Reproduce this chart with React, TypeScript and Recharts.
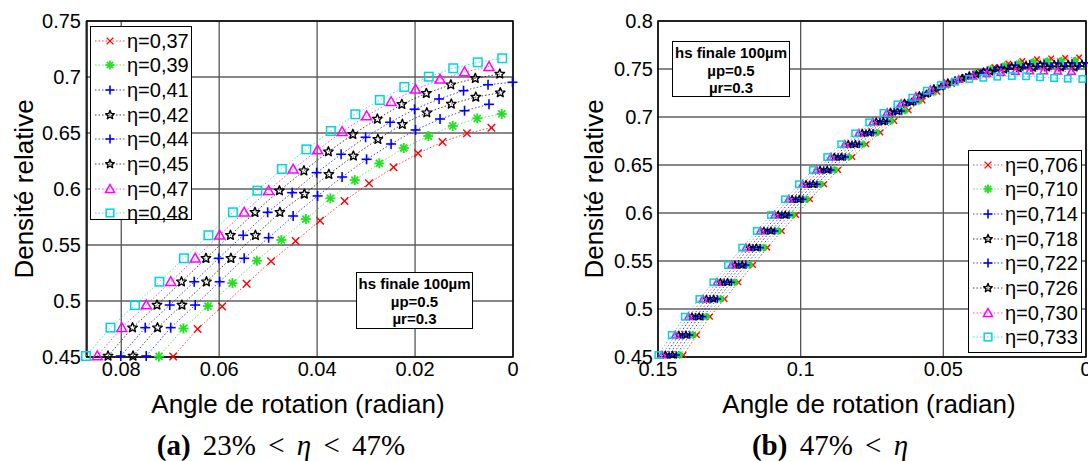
import { CartesianGrid, Line, LineChart, ReferenceArea, XAxis, YAxis } from "recharts";

type Shape = "cross" | "asterisk" | "plus" | "penta" | "triangle" | "square";
type Row = { x: number; y: number };

// shared series styling (same order in both panels)
const COLORS = ["#ff0000", "#22e022", "#0000ff", "#000000", "#0000ff", "#000000", "#ff00ff", "#00d4dc"];
const SHAPES: Shape[] = ["cross", "asterisk", "plus", "penta", "plus", "penta", "triangle", "square"];

// ---------- (a) 23% < η < 47% ----------
const A_NAMES = ["η=0,37", "η=0,39", "η=0,41", "η=0,42", "η=0,44", "η=0,45", "η=0,47", "η=0,48"];
const A_X_TICKS = [0, 0.02, 0.04, 0.06, 0.08];
const A_Y_TICKS = [0.45, 0.5, 0.55, 0.6, 0.65, 0.7, 0.75];
// angles of the η=0,48 points; every other series sits A_SHIFT to the right
const A_ANGLES = [0.0872, 0.0822, 0.0772, 0.0722, 0.0672, 0.0622, 0.0572, 0.0522, 0.0472, 0.0422, 0.0372, 0.0322, 0.0272, 0.0222, 0.0172, 0.0122, 0.0072, 0.0022];
const A_SHIFT = [0.0178, 0.0149, 0.0123, 0.0096, 0.0071, 0.0045, 0.0023, 0];
const A_037 = [0.4505, 0.475, 0.495, 0.5155, 0.5355, 0.5536, 0.5717, 0.5893, 0.6051, 0.6194, 0.6319, 0.642, 0.6497, 0.6547];
const A_039 = [0.4505, 0.4755, 0.4955, 0.516, 0.536, 0.5545, 0.5732, 0.5917, 0.608, 0.6229, 0.6366, 0.6473, 0.6563, 0.6631, 0.667];
const A_041 = [0.4509, 0.4762, 0.4964, 0.5172, 0.5381, 0.5565, 0.5759, 0.5938, 0.6107, 0.6265, 0.6402, 0.6527, 0.6625, 0.6699, 0.6756];
const A_042 = [0.4509, 0.4762, 0.4964, 0.5172, 0.5381, 0.5587, 0.5792, 0.5955, 0.6131, 0.6295, 0.6444, 0.6578, 0.6681, 0.6759, 0.6821, 0.686];
const A_044 = [0.4509, 0.4762, 0.4964, 0.5172, 0.5381, 0.5587, 0.5792, 0.5967, 0.6146, 0.631, 0.6462, 0.6596, 0.6712, 0.6804, 0.6878, 0.6931, 0.6953];
const A_045 = [0.4509, 0.4762, 0.4964, 0.5172, 0.5381, 0.5587, 0.5792, 0.5985, 0.6163, 0.6333, 0.6488, 0.6625, 0.6756, 0.6854, 0.6931, 0.6988, 0.7027];
const A_047 = [0.4509, 0.4762, 0.4964, 0.5172, 0.5381, 0.5587, 0.5792, 0.5985, 0.6176, 0.6348, 0.6512, 0.6652, 0.6779, 0.689, 0.6979, 0.7045, 0.7092];
const A_048 = [0.4509, 0.4762, 0.4964, 0.5172, 0.5381, 0.5587, 0.5792, 0.5985, 0.6179, 0.6354, 0.6518, 0.6667, 0.6795, 0.6911, 0.7003, 0.7078, 0.7131, 0.7167];

// ---------- (b) 47% < η ----------
const B_NAMES = ["η=0,706", "η=0,710", "η=0,714", "η=0,718", "η=0,722", "η=0,726", "η=0,730", "η=0,733"];
const B_X_TICKS = [0, 0.05, 0.1, 0.15];
const B_Y_TICKS = [0.45, 0.5, 0.55, 0.6, 0.65, 0.7, 0.75, 0.8];
// angles of the η=0,733 points
const B_ANGLES = [0.1499, 0.1452, 0.1406, 0.1355, 0.1306, 0.1255, 0.1205, 0.1154, 0.1104, 0.1055, 0.1006, 0.0957, 0.0907, 0.0858, 0.0809, 0.076, 0.071, 0.0661, 0.0609, 0.0558, 0.0509, 0.0459, 0.0409, 0.036, 0.0311, 0.026, 0.021, 0.0161, 0.0112, 0.0064, 0.0013];
const B_SHIFT = [0.0088, 0.0075, 0.0063, 0.005, 0.0038, 0.0025, 0.0013, 0];
const B_0706 = [0.4521, 0.4729, 0.492, 0.5104, 0.5278, 0.5458, 0.5639, 0.5813, 0.5979, 0.6143, 0.6299, 0.6448, 0.6583, 0.6716, 0.6838, 0.696, 0.707, 0.7172, 0.7263, 0.7344, 0.7414, 0.7472, 0.752, 0.7556, 0.7582, 0.76, 0.761, 0.7615, 0.762];
const B_0710 = [0.4521, 0.4729, 0.492, 0.5104, 0.5278, 0.5458, 0.5639, 0.5813, 0.5979, 0.6143, 0.6299, 0.6448, 0.6583, 0.6716, 0.6837, 0.6957, 0.7066, 0.7166, 0.7255, 0.7334, 0.7402, 0.7458, 0.7503, 0.7537, 0.7561, 0.7576, 0.7584, 0.7588, 0.759];
const B_0714 = [0.4521, 0.4729, 0.492, 0.5104, 0.5278, 0.5458, 0.5639, 0.5813, 0.5979, 0.6143, 0.6299, 0.6448, 0.6583, 0.6716, 0.6836, 0.6955, 0.7062, 0.716, 0.7247, 0.7324, 0.739, 0.7444, 0.7487, 0.7518, 0.754, 0.7553, 0.756, 0.7562, 0.7563, 0.7563];
const B_0718 = [0.4521, 0.4729, 0.492, 0.5104, 0.5278, 0.5458, 0.5639, 0.5813, 0.5979, 0.6143, 0.6299, 0.6448, 0.6583, 0.6716, 0.6835, 0.6953, 0.7058, 0.7155, 0.724, 0.7315, 0.738, 0.7432, 0.7472, 0.7503, 0.7525, 0.7538, 0.7545, 0.7548, 0.755, 0.7551];
const B_0722 = [0.4521, 0.4729, 0.492, 0.5104, 0.5278, 0.5458, 0.5639, 0.5813, 0.5979, 0.6143, 0.6299, 0.6448, 0.6583, 0.6716, 0.6834, 0.6951, 0.7055, 0.715, 0.7232, 0.7305, 0.7368, 0.7418, 0.7457, 0.7487, 0.7508, 0.7521, 0.7528, 0.7531, 0.7532, 0.7532];
const B_0726 = [0.4521, 0.4729, 0.492, 0.5104, 0.5278, 0.5458, 0.5639, 0.5813, 0.5979, 0.6143, 0.6299, 0.6448, 0.6583, 0.6716, 0.6833, 0.695, 0.7052, 0.7146, 0.7225, 0.7297, 0.7358, 0.7405, 0.7443, 0.747, 0.749, 0.7503, 0.751, 0.7513, 0.7513, 0.7512];
const B_0730 = [0.4521, 0.4729, 0.492, 0.5104, 0.5278, 0.5458, 0.5639, 0.5813, 0.5979, 0.6143, 0.6299, 0.6448, 0.6583, 0.6716, 0.6832, 0.6948, 0.7048, 0.714, 0.7215, 0.7285, 0.7345, 0.739, 0.7425, 0.745, 0.7465, 0.7475, 0.748, 0.748, 0.7478, 0.7475];
const B_0733 = [0.4521, 0.4729, 0.492, 0.5104, 0.5278, 0.5458, 0.5639, 0.5813, 0.5979, 0.6143, 0.6299, 0.6448, 0.6583, 0.6716, 0.683, 0.6945, 0.7042, 0.7132, 0.7201, 0.7274, 0.7333, 0.7368, 0.7396, 0.7409, 0.742, 0.7427, 0.7424, 0.7414, 0.7406, 0.7399, 0.7396];

function toRows(angles: number[], shift: number, values: number[]): Row[] {
  return values.map((y, k) => ({ x: angles[k] - shift, y }));
}

const SERIES_A = [A_037, A_039, A_041, A_042, A_044, A_045, A_047, A_048].map((v, i) =>
  toRows(A_ANGLES, A_SHIFT[i], v),
);
const SERIES_B = [B_0706, B_0710, B_0714, B_0718, B_0722, B_0726, B_0730, B_0733].map((v, i) =>
  toRows(B_ANGLES, B_SHIFT[i], v),
);

const SANS = "'Liberation Sans', Arial, Helvetica, sans-serif";
const SERIF = "'Liberation Serif', 'Times New Roman', serif";
const TICK_STYLE = { fontSize: 20, fill: "#000", fontFamily: SANS };

function Marker({ shape, cx, cy, size, color }: { shape: Shape; cx: number; cy: number; size: number; color: string }) {
  const h = size / 2;
  if (shape === "cross") {
    const d = h * 0.75;
    return (
      <g stroke={color} strokeWidth={1.4}>
        <line x1={cx - d} y1={cy - d} x2={cx + d} y2={cy + d} />
        <line x1={cx - d} y1={cy + d} x2={cx + d} y2={cy - d} />
      </g>
    );
  }
  if (shape === "plus") {
    return (
      <g stroke={color} strokeWidth={1.6}>
        <line x1={cx - h} y1={cy} x2={cx + h} y2={cy} />
        <line x1={cx} y1={cy - h} x2={cx} y2={cy + h} />
      </g>
    );
  }
  if (shape === "asterisk") {
    const d = h * 0.7;
    return (
      <g stroke={color} strokeWidth={1.8}>
        <line x1={cx - h} y1={cy} x2={cx + h} y2={cy} />
        <line x1={cx} y1={cy - h} x2={cx} y2={cy + h} />
        <line x1={cx - d} y1={cy - d} x2={cx + d} y2={cy + d} />
        <line x1={cx - d} y1={cy + d} x2={cx + d} y2={cy - d} />
      </g>
    );
  }
  if (shape === "penta") {
    const pts: string[] = [];
    for (let i = 0; i < 10; i++) {
      const r = i % 2 === 0 ? h : h * 0.45;
      const a = -Math.PI / 2 + (i * Math.PI) / 5;
      pts.push(`${cx + r * Math.cos(a)},${cy + r * Math.sin(a)}`);
    }
    return <polygon points={pts.join(" ")} fill="none" stroke={color} strokeWidth={1.4} strokeLinejoin="round" />;
  }
  if (shape === "triangle") {
    return (
      <polygon
        points={`${cx},${cy - h} ${cx + h},${cy + h * 0.75} ${cx - h},${cy + h * 0.75}`}
        fill="none"
        stroke={color}
        strokeWidth={1.5}
      />
    );
  }
  const s = h * 0.85;
  return <rect x={cx - s} y={cy - s} width={2 * s} height={2 * s} fill="none" stroke={color} strokeWidth={1.5} />;
}

type PanelProps = {
  series: Row[][];
  xDomain: [number, number];
  xTicks: number[];
  yDomain: [number, number];
  yTicks: number[];
  marginLeft: number;
  marginRight: number;
  markerSize: number;
};

function Panel({ series, xDomain, xTicks, yDomain, yTicks, marginLeft, marginRight, markerSize }: PanelProps) {
  return (
    <LineChart width={544} height={390} margin={{ top: 21, right: marginRight, bottom: 3, left: marginLeft }}>
      <CartesianGrid horizontal vertical={false} stroke="#111" strokeWidth={1} />
      <CartesianGrid horizontal={false} vertical stroke="#555" strokeWidth={1.3} />
      <XAxis
        type="number"
        dataKey="x"
        domain={xDomain}
        ticks={xTicks}
        reversed
        interval={0}
        axisLine={false}
        tickLine={false}
        tickSize={0}
        tickMargin={5}
        height={30}
        tick={TICK_STYLE}
        tickFormatter={(v: number) => String(v)}
      />
      <YAxis
        type="number"
        dataKey="y"
        domain={yDomain}
        ticks={yTicks}
        interval={0}
        width={80}
        axisLine={false}
        tickLine={false}
        tickSize={0}
        tickMargin={5}
        tick={TICK_STYLE}
        tickFormatter={(v: number) => String(v)}
      />
      <ReferenceArea
        x1={xDomain[0]}
        x2={xDomain[1]}
        y1={yDomain[0]}
        y2={yDomain[1]}
        fill="none"
        fillOpacity={0}
        stroke="#000"
        strokeWidth={1.5}
      />
      {series.map((rows, i) => (
        <Line
          key={i}
          data={rows}
          dataKey="y"
          type="linear"
          stroke={COLORS[i]}
          strokeWidth={1}
          strokeOpacity={0.75}
          strokeDasharray="1.5 2"
          activeDot={false}
          isAnimationActive={false}
          dot={(p: any) => (
            <Marker key={`m-${i}-${p.index}`} shape={SHAPES[i]} cx={p.cx} cy={p.cy} size={markerSize} color={COLORS[i]} />
          )}
        />
      ))}
    </LineChart>
  );
}

function LegendBox({ left, top, width, height, names }: { left: number; top: number; width: number; height: number; names: string[] }) {
  return (
    <div
      style={{
        position: "absolute",
        left,
        top,
        width,
        height,
        border: "1.5px solid #000",
        background: "#fff",
        boxSizing: "border-box",
      }}
    >
      {names.map((name, i) => (
        <div
          key={name + i}
          style={{ position: "absolute", left: 2, top: 13.5 + 24.7 * i - 12, height: 24, display: "flex", alignItems: "center" }}
        >
          <svg width={34} height={24}>
            <line x1={2} x2={32} y1={12} y2={12} stroke={COLORS[i]} strokeOpacity={0.75} strokeDasharray="1.5 2" />
            <Marker shape={SHAPES[i]} cx={17} cy={12} size={9} color={COLORS[i]} />
          </svg>
          <span style={{ fontSize: 20, lineHeight: "24px", fontFamily: SANS, color: "#000", whiteSpace: "nowrap" }}>{name}</span>
        </div>
      ))}
    </div>
  );
}

function NoteBox({ left, top, width, height }: { left: number; top: number; width: number; height: number }) {
  return (
    <div
      style={{
        position: "absolute",
        left,
        top,
        width,
        height,
        border: "1.5px solid #000",
        background: "#fff",
        boxSizing: "border-box",
        fontFamily: SANS,
        fontWeight: "bold",
        fontSize: 15,
        lineHeight: "17.5px",
        textAlign: "center",
        paddingTop: 2,
        whiteSpace: "nowrap",
      }}
    >
      <div>hs finale 100µm</div>
      <div>µp=0.5</div>
      <div>µr=0.3</div>
    </div>
  );
}

function Text({ x, y, size, rotate, children, family, spacing }: { x: number; y: number; size: number; rotate?: boolean; children: any; family?: string; spacing?: number }) {
  return (
    <div
      style={{
        position: "absolute",
        left: x,
        top: y,
        transform: `translate(-50%, -50%)${rotate ? " rotate(-90deg)" : ""}`,
        fontSize: size,
        lineHeight: 1,
        fontFamily: family ?? SANS,
        wordSpacing: spacing ?? 0,
        whiteSpace: "nowrap",
        color: "#000",
      }}
    >
      {children}
    </div>
  );
}

export default function App() {
  return (
    <div style={{ position: "absolute", left: 0, top: 0, width: 1088, height: 461, background: "#fff", overflow: "hidden" }}>
      <div style={{ position: "absolute", left: 0, top: 0 }}>
        <Panel
          series={SERIES_A}
          xDomain={[0, 0.087]}
          xTicks={A_X_TICKS}
          yDomain={[0.45, 0.75]}
          yTicks={A_Y_TICKS}
          marginLeft={6}
          marginRight={31}
          markerSize={10}
        />
      </div>
      <div style={{ position: "absolute", left: 544, top: 0 }}>
        <Panel
          series={SERIES_B}
          xDomain={[0, 0.15]}
          xTicks={B_X_TICKS}
          yDomain={[0.45, 0.8]}
          yTicks={B_Y_TICKS}
          marginLeft={34}
          marginRight={2}
          markerSize={7.5}
        />
      </div>

      <LegendBox left={90} top={26} width={102} height={194} names={A_NAMES} />
      <LegendBox left={968} top={150} width={114} height={203} names={B_NAMES} />
      <NoteBox left={356} top={272} width={117} height={57} />
      <NoteBox left={672} top={41} width={118} height={56} />

      <Text x={24} y={189} size={26} rotate>Densité relative</Text>
      <Text x={594} y={189} size={26} rotate>Densité relative</Text>
      <Text x={298} y={404} size={26}>Angle de rotation (radian)</Text>
      <Text x={869} y={404} size={26}>Angle de rotation (radian)</Text>

      <Text x={281} y={445} size={29} family={SERIF} spacing={5}>
        <b>(a)</b> 23% &lt; <i>η</i> &lt; 47%
      </Text>
      <Text x={830} y={445} size={29} family={SERIF} spacing={5}>
        <b>(b)</b> 47% &lt; <i>η</i>
      </Text>
    </div>
  );
}
